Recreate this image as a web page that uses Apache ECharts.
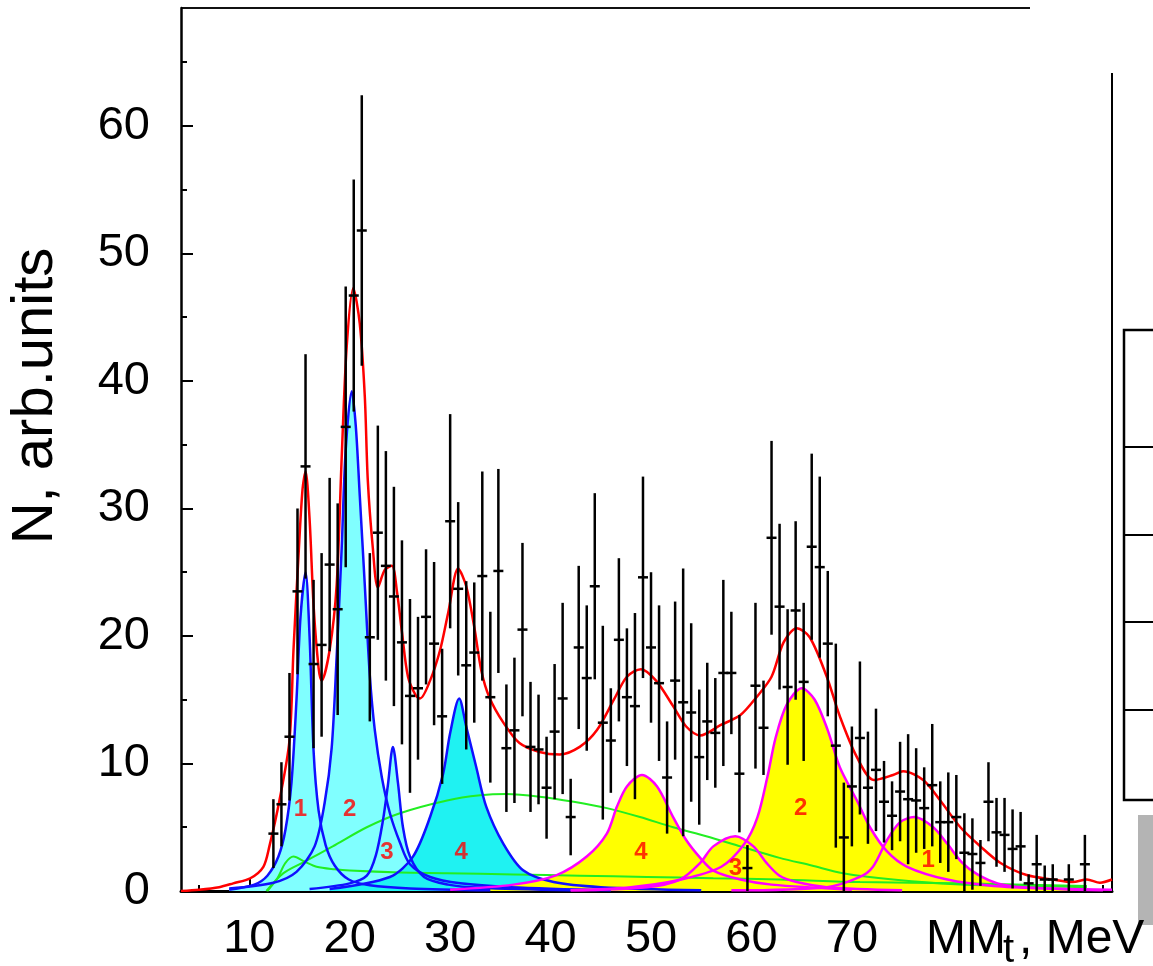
<!DOCTYPE html>
<html>
<head>
<meta charset="utf-8">
<script src="https://cdn.jsdelivr.net/npm/echarts@6/dist/echarts.min.js"></script>
<style>
  html, body { margin: 0; padding: 0; background: #fff; }
  #chart { width: 1153px; height: 966px; }
</style>
</head>
<body>
<div id="chart"></div>
<script>
// --- measured spectrum: bin centres (MeV), counts, symmetric errors ---
const binX = [12.4, 13.2, 14.0, 14.8, 15.6, 16.4, 17.2, 18.0, 18.8, 19.6, 20.4, 21.2, 22.0, 22.8, 23.6, 24.4, 25.2, 26.0, 26.8, 27.6,
  28.4, 29.2, 30.0, 30.8, 31.6, 32.4, 33.2, 34.0, 34.8, 35.6, 36.4, 37.2, 38.0, 38.8, 39.6, 40.4, 41.2, 42.0, 42.8, 43.6,
  44.4, 45.2, 46.0, 46.8, 47.6, 48.4, 49.2, 50.0, 50.8, 51.6, 52.4, 53.2, 54.0, 54.8, 55.6, 56.4, 57.2, 58.0, 58.8, 59.6,
  60.4, 61.2, 62.0, 62.8, 63.6, 64.4, 65.2, 66.0, 66.8, 67.6, 68.4, 69.2, 70.0, 70.8, 71.6, 72.4, 73.2, 74.0, 74.8, 75.6,
  76.4, 77.2, 78.0, 78.8, 79.6, 80.4, 81.2, 82.0, 82.8, 83.6, 84.4, 85.2, 86.0, 86.8, 87.6, 88.4, 89.2, 90.0, 91.6, 93.2];
const counts = [4.5, 6.8, 12.1, 23.5, 33.3, 17.8, 19.3, 25.6, 22.1, 36.4, 46.7, 51.8, 19.9, 28.1, 25.5, 23.1, 19.5, 15.3, 15.9, 21.5,
  19.4, 13.7, 29.0, 23.7, 17.7, 18.7, 24.7, 15.2, 25.1, 11.2, 12.6, 20.5, 11.3, 11.1, 8.1, 12.5, 15.1, 5.8, 19.1, 16.7,
  23.9, 13.2, 11.8, 19.7, 15.2, 14.5, 24.6, 19.1, 16.3, 8.9, 16.5, 14.8, 14.0, 10.5, 13.3, 12.4, 17.1, 17.1, 9.2, 1.8,
  16.1, 12.8, 27.7, 22.3, 16.0, 22.0, 16.4, 27.0, 25.4, 19.4, 11.4, 4.2, 8.2, 12.0, 8.1, 9.5, 7.0, 5.9, 7.8, 7.2,
  7.1, 6.5, 8.3, 5.4, 5.4, 5.8, 3.0, 2.9, 2.2, 7.0, 4.6, 4.4, 3.3, 3.5, 0.6, 2.1, 0.9, 0.9, 0.9, 2.1];
const errors = [2.7, 3.3, 5.0, 6.5, 8.8, 6.6, 7.2, 6.8, 8.3, 11.0, 9.1, 10.6, 6.6, 8.4, 9.0, 8.6, 8.0, 7.6, 5.6, 5.3,
  6.4, 5.3, 8.4, 6.8, 6.6, 5.5, 8.2, 6.7, 8.0, 5.0, 5.7, 6.8, 5.1, 4.3, 4.0, 5.3, 7.5, 3.0, 6.4, 5.7,
  7.3, 7.6, 4.1, 6.4, 5.4, 7.3, 7.9, 5.9, 6.1, 4.4, 6.2, 10.5, 7.0, 5.3, 4.6, 4.3, 7.3, 4.8, 4.6, 1.8,
  6.5, 3.7, 7.6, 6.5, 6.1, 7.0, 6.2, 7.3, 7.1, 5.7, 8.0, 4.3, 4.7, 6.0, 4.4, 4.8, 3.2, 2.7, 3.9, 5.1,
  4.1, 3.2, 4.8, 3.2, 3.9, 3.3, 3.1, 2.8, 1.8, 3.1, 2.7, 2.9, 3.1, 2.7, 0.7, 2.3, 1.1, 1.2, 1.2, 2.3];

// --- fitted components as [MeV, N] ---
const blue1 = [[8.0, 0.1], [10.5, 0.5], [11.8, 1.2], [12.9, 2.7], [13.6, 4.8], [14.2, 8.5], [14.7, 15.0], [15.1, 21.5],
  [15.6, 25.0], [16.0, 20.0], [16.4, 11.0], [16.9, 6.3], [17.6, 3.6], [18.5, 2.0], [19.9, 0.9], [22.0, 0.45], [26.0, 0.2], [34.0, 0.05]];
const blue2 = [[8.0, 0.2], [12.4, 0.65], [14.7, 1.5], [16.5, 3.5], [17.5, 6.9], [18.2, 11.2], [18.7, 18.4], [19.2, 26.9],
  [19.6, 34.6], [20.2, 39.2], [20.6, 36.5], [21.0, 31.0], [21.5, 24.0], [22.0, 16.9], [22.5, 12.6], [23.2, 8.9], [24.0, 6.1],
  [25.0, 3.8], [26.0, 2.1], [28.0, 1.1], [31.0, 0.6], [36.0, 0.3], [46.0, 0.05]];
const blue3 = [[16.0, 0.15], [20.0, 0.6], [21.7, 1.2], [22.6, 2.8], [23.3, 5.5], [23.8, 8.3], [24.3, 11.3], [24.8, 8.5],
  [25.3, 5.0], [26.0, 2.7], [27.4, 1.1], [29.8, 0.5], [33.0, 0.25], [42.0, 0.05]];
const blue4 = [[18.0, 0.15], [24.0, 1.1], [26.3, 2.7], [28.0, 5.8], [29.3, 9.2], [30.0, 12.4], [30.9, 15.1], [31.6, 12.9],
  [32.6, 9.7], [33.6, 6.6], [35.3, 3.7], [37.3, 1.6], [40.3, 0.7], [45.0, 0.3], [55.0, 0.05]];
const magenta4 = [[30.0, 0.1], [36.3, 0.5], [40.6, 1.25], [43.6, 2.7], [45.6, 4.5], [46.6, 6.6], [47.6, 8.2], [49.1, 9.1],
  [50.6, 8.2], [52.2, 5.8], [53.5, 4.0], [54.9, 2.6], [56.2, 1.6], [58.9, 0.9], [62.0, 0.5], [70.0, 0.1]];
const magenta3 = [[42.0, 0.05], [49.6, 0.3], [52.9, 0.9], [54.9, 2.2], [56.2, 3.5], [58.4, 4.3], [60.2, 3.5], [61.5, 2.2],
  [62.8, 1.2], [64.5, 0.7], [67.5, 0.3], [75.0, 0.05]];
const magenta2 = [[42.0, 0.05], [48.0, 0.3], [53.0, 0.9], [57.0, 1.9], [59.3, 3.7], [60.6, 5.8], [61.6, 9.0], [62.4, 12.0],
  [63.5, 14.6], [65.0, 15.9], [66.3, 15.0], [67.6, 12.6], [68.8, 9.7], [70.5, 7.1], [71.8, 5.0], [73.5, 3.1], [75.5, 1.9],
  [79.5, 0.9], [84.1, 0.4], [90.0, 0.2], [95.9, 0.1]];
const magenta1 = [[58.0, 0.05], [67.5, 0.3], [70.8, 1.1], [72.1, 1.9], [73.5, 4.0], [74.8, 5.4], [76.2, 5.8], [78.1, 5.0],
  [79.5, 3.7], [81.0, 2.2], [82.5, 1.3], [84.5, 0.6], [87.0, 0.3], [95.0, 0.05]];
const greenWide = [[11.7, 0.0], [13.4, 1.4], [15.5, 2.3], [18.3, 3.5], [21.7, 5.0], [25.0, 6.1], [29.7, 7.1], [33.0, 7.5],
  [35.6, 7.6], [38.9, 7.4], [42.3, 7.0], [45.6, 6.5], [48.9, 5.8], [52.2, 5.0], [55.5, 4.3], [58.9, 3.5], [62.8, 2.6],
  [66.0, 2.0], [69.1, 1.4], [74.1, 0.9], [80.8, 0.5], [87.4, 0.4], [93.4, 0.3]];
const greenLow = [[11.8, 0.0], [12.8, 1.0], [13.6, 2.2], [14.4, 2.7], [15.5, 2.3], [16.7, 1.9], [18.5, 1.7], [20.0, 1.6],
  [25.0, 1.45], [29.7, 1.4], [36.3, 1.3], [42.9, 1.2], [49.6, 1.1], [56.2, 1.0], [62.8, 0.9], [70.8, 0.7], [80.8, 0.6], [93.4, 0.4]];
const total = [[3.2, 0.0], [5.0, 0.1], [7.0, 0.3], [8.4, 0.6], [10.1, 1.0], [11.4, 1.9], [12.0, 3.5], [13.0, 7.1], [14.0, 11.8],
  [14.4, 18.9], [14.9, 26.3], [15.3, 31.5], [15.6, 32.9], [16.0, 29.2], [16.4, 22.4], [16.9, 17.5], [17.2, 16.5], [18.0, 18.9],
  [18.7, 24.0], [19.2, 34.0], [19.7, 42.7], [20.35, 47.3], [21.0, 44.5], [21.5, 38.8], [21.8, 32.2], [22.3, 26.9], [22.8, 23.8],
  [23.5, 25.2], [24.2, 25.5], [24.7, 23.5], [25.2, 20.3], [25.8, 16.8], [26.6, 15.3], [27.0, 15.1], [28.0, 16.5], [29.0, 18.9],
  [29.8, 21.8], [30.8, 25.3], [31.6, 23.9], [32.4, 20.7], [33.1, 17.3], [33.9, 15.2], [35.3, 13.2], [36.9, 11.6], [38.9, 10.9],
  [40.9, 10.7], [42.9, 11.3], [44.6, 12.6], [46.3, 15.0], [47.6, 16.8], [49.0, 17.4], [50.5, 16.5], [52.2, 14.5], [53.5, 12.9],
  [54.9, 12.2], [56.9, 13.0], [58.9, 13.8], [60.5, 15.2], [62.0, 16.8], [63.2, 19.5], [64.5, 20.6], [65.8, 19.9], [67.5, 16.8],
  [68.8, 13.7], [70.5, 10.5], [72.2, 8.7], [74.1, 9.1], [75.1, 9.4], [77.1, 8.7], [78.8, 7.1], [80.8, 5.0], [82.8, 3.5],
  [84.8, 2.2], [87.4, 1.25], [90.0, 0.9], [92.0, 0.7], [93.4, 0.9], [94.7, 0.65], [95.9, 0.9]];

// --- peak numbers ---
const peakLabelX = [15.1, 20.0, 23.7, 31.1, 49.0, 58.4, 64.9, 77.6];
const peakLabelY = [6.4, 6.4, 3.0, 3.0, 3.0, 1.8, 6.5, 2.4];
const peakLabelText = ['1', '2', '3', '4', '4', '3', '2', '1'];

// --- axis ticks ---
const xMajorTicks = [10, 20, 30, 40, 50, 60, 70, 80, 90];
const xMinorTicks = [5, 15, 25, 35, 45, 55, 65, 75, 85, 95];
const xTickLabels = [10, 20, 30, 40, 50, 60, 70];
const yMajorTicks = [0, 10, 20, 30, 40, 50, 60];
const yMinorTicks = [5, 15, 25, 35, 45, 55, 65];

const FONT = 'Liberation Sans, Arial, sans-serif';
const CYAN = '#80ffff';
const CYAN_DEEP = '#1ff2f2';
const YELLOW = '#ffff00';
const BLUE = '#1010ff';
const MAGENTA = '#ff00ff';
const GREEN = '#22ee22';

const chart = echarts.init(document.getElementById('chart'), null, { renderer: 'canvas' });

const area = (data, color) => ({
  type: 'line', data, xAxisIndex: 0, yAxisIndex: 0, smooth: 0.3, symbol: 'none', silent: true, z: 1,
  lineStyle: { width: 0 }, areaStyle: { color, opacity: 1 },
});
const curve = (data, color, width = 2.5, z = 2) => ({
  type: 'line', data, xAxisIndex: 0, yAxisIndex: 0, smooth: 0.3, symbol: 'none', silent: true, z,
  lineStyle: { width, color },
});

const bars = binX.map((x, i) => [x, counts[i], errors[i]]);

const option = {
  animation: false,
  backgroundColor: '#fff',
  grid: { left: 181, right: 41, top: 8, bottom: 75, containLabel: false },
  xAxis: [
    {
      type: 'value', min: 3.2, max: 95.9,
      axisLine: { lineStyle: { color: '#000', width: 3 } },
      axisTick: { inside: true, length: 12, customValues: xMajorTicks, lineStyle: { color: '#000', width: 2 } },
      axisLabel: { customValues: xTickLabels, color: '#000', fontSize: 47, fontFamily: FONT, margin: 25 },
      splitLine: { show: false },
    },
    {
      type: 'value', min: 3.2, max: 95.9, position: 'bottom',
      axisLine: { show: false },
      axisTick: { inside: true, length: 6, customValues: xMinorTicks, lineStyle: { color: '#000', width: 2 } },
      axisLabel: { show: false },
      splitLine: { show: false },
    },
  ],
  yAxis: [
    {
      type: 'value', min: 0, max: 69.25,
      axisLine: { show: true, lineStyle: { color: '#000', width: 2.5 } },
      axisTick: { inside: true, length: 12, customValues: yMajorTicks, lineStyle: { color: '#000', width: 2 } },
      axisLabel: { customValues: yMajorTicks, color: '#000', fontSize: 47, fontFamily: FONT, margin: 31 },
      splitLine: { show: false },
    },
    {
      type: 'value', min: 0, max: 69.25, position: 'left',
      axisLine: { show: false },
      axisTick: { inside: true, length: 6, customValues: yMinorTicks, lineStyle: { color: '#000', width: 2 } },
      axisLabel: { show: false },
      splitLine: { show: false },
    },
  ],
  series: [
    area(blue1, CYAN), area(blue2, CYAN), area(blue3, CYAN), area(blue4, CYAN_DEEP),
    area(magenta4, YELLOW), area(magenta3, YELLOW), area(magenta2, YELLOW), area(magenta1, YELLOW),
    curve(greenWide, GREEN, 2), curve(greenLow, GREEN, 2),
    curve(blue1, BLUE), curve(blue2, BLUE), curve(blue3, BLUE), curve(blue4, BLUE),
    curve(magenta4, MAGENTA), curve(magenta3, MAGENTA), curve(magenta2, MAGENTA), curve(magenta1, MAGENTA),
    curve(total, '#ff0000', 2.5, 3),
    {
      type: 'custom', data: bars, xAxisIndex: 0, yAxisIndex: 0, silent: true, z: 4,
      renderItem: (params, api) => {
        const x = api.value(0), v = api.value(1), e = api.value(2);
        const c = api.coord([x, v]);
        const hi = api.coord([x, v + e]);
        const lo = api.coord([x, Math.max(0, v - e)]);
        const s = { stroke: '#000', lineWidth: 2.5 };
        return {
          type: 'group',
          children: [
            { type: 'line', shape: { x1: c[0], y1: hi[1], x2: c[0], y2: lo[1] }, style: s },
            { type: 'line', shape: { x1: c[0] - 5, y1: c[1], x2: c[0] + 5, y2: c[1] }, style: s },
          ],
        };
      },
    },
    {
      type: 'scatter', xAxisIndex: 0, yAxisIndex: 0, silent: true, z: 5,
      symbolSize: 1, itemStyle: { color: 'rgba(0,0,0,0)' },
      data: peakLabelX.map((x, i) => ({ value: [x, peakLabelY[i]], name: peakLabelText[i] })),
      label: {
        show: true, position: 'inside', formatter: p => p.name,
        color: '#ff0000', fontSize: 24, fontWeight: 'bold', fontFamily: FONT,
      },
    },
  ],
  graphic: [
    // frame pieces
    { type: 'line', shape: { x1: 181, y1: 8, x2: 1030, y2: 8 }, style: { stroke: '#111', lineWidth: 2 } },
    { type: 'line', shape: { x1: 1112, y1: 73, x2: 1112, y2: 891 }, style: { stroke: '#000', lineWidth: 2 } },
    // neighbouring panel edge
    { type: 'rect', shape: { x: 1124, y: 330, width: 60, height: 470 }, style: { fill: 'none', stroke: '#000', lineWidth: 2.5 } },
    { type: 'line', shape: { x1: 1124, y1: 447, x2: 1153, y2: 447 }, style: { stroke: '#000', lineWidth: 2 } },
    { type: 'line', shape: { x1: 1124, y1: 535, x2: 1153, y2: 535 }, style: { stroke: '#000', lineWidth: 2 } },
    { type: 'line', shape: { x1: 1124, y1: 622, x2: 1153, y2: 622 }, style: { stroke: '#000', lineWidth: 2 } },
    { type: 'line', shape: { x1: 1124, y1: 710, x2: 1153, y2: 710 }, style: { stroke: '#000', lineWidth: 2 } },
    { type: 'rect', shape: { x: 1138, y: 815, width: 15, height: 110 }, style: { fill: '#b4b4b4' } },
    // axis titles
    {
      type: 'text', x: 36, y: 396, rotation: Math.PI / 2,
      style: { text: 'N, arb.units', fill: '#000', fontSize: 58, fontFamily: FONT, align: 'center', verticalAlign: 'middle' },
    },
    { type: 'text', x: 926, y: 940, style: { text: 'MM', fill: '#000', fontSize: 48, fontFamily: FONT, align: 'left', verticalAlign: 'middle' } },
    { type: 'text', x: 1003, y: 951, style: { text: 't', fill: '#000', fontSize: 40, fontFamily: FONT, align: 'left', verticalAlign: 'middle' } },
    { type: 'text', x: 1019, y: 940, style: { text: ', MeV', fill: '#000', fontSize: 48, fontFamily: FONT, align: 'left', verticalAlign: 'middle' } },
  ],
};

chart.setOption(option);
window.addEventListener('resize', () => chart.resize());
</script>
</body>
</html>
